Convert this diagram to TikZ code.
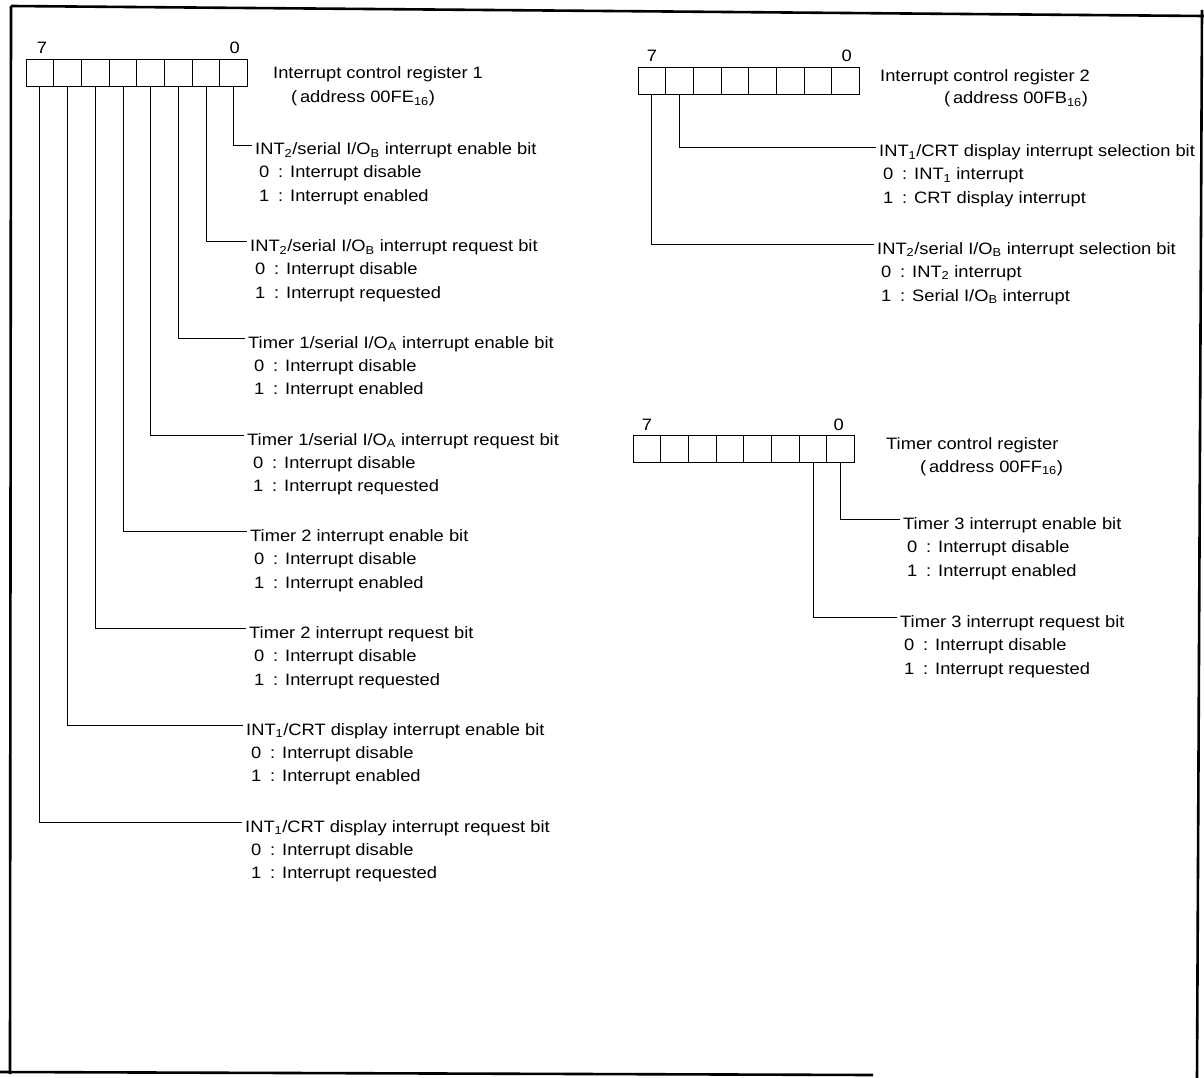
\documentclass[tikz,border=0pt]{standalone}
\usepackage{fontspec}
\setmainfont[FakeStretch=1.11]{Liberation Sans}
\newcommand\opt[2]{\makebox[19pt][l]{#1}\makebox[12pt][l]{:}#2}
\newcommand\regcells[3]{%
  \foreach \i in {0,...,7}
    \node[cell] (#1\i) at ({#2+(7-\i+0.5)*27.7},{#3+13.5}) {};}
\begin{document}
\begin{tikzpicture}[x=1pt,y=-1pt,
  font=\fontsize{16.5}{18}\selectfont,
  cell/.style={draw,line width=0.9pt,minimum width=27.7pt,minimum height=27pt,inner sep=0pt,outer sep=0pt},
  lbl/.style={anchor=base west,inner sep=0pt},
  num/.style={anchor=base,inner sep=0pt},
  wire/.style={line width=0.9pt},
  frame/.style={line width=2.6pt}]
\useasboundingbox (0,0) rectangle (1204,1078);
% frame
\coordinate (ftl) at (11,6);
\coordinate (ftr) at (1204,16);
\coordinate (fbl) at (10,1074);
\coordinate (fbe) at (873,1075);
\coordinate (fb0) at (0,1072);
\coordinate (frt) at (1202,10);
\coordinate (frb) at (1197,1078);
\draw[frame] (ftl) -- (ftr);
\draw[frame] (ftl) -- (fbl);
\draw[frame] (fb0) -- (fbe);
\draw[frame] (frt) -- (frb);

% ---------------- register 1
\regcells{ra}{26}{59}
\node[num] (ra7n) at ([xshift=2pt,yshift=5pt]ra7.north) {7};
\node[num] (ra0n) at ([xshift=1pt,yshift=5pt]ra0.north) {0};
\node[lbl] (rat) at (273,79) {Interrupt control register 1};
\node[lbl] (raa) at (291,103) {(\,address 00FE\textsubscript{16})};

\node[lbl] (a0) at (255,155) {INT\textsubscript{2}/serial I/O\textsubscript{B} interrupt enable bit};
\node[lbl] (a0z) at (259,178) {\opt{0}{Interrupt disable}};
\node[lbl] (a0o) at (259,201.5) {\opt{1}{Interrupt enabled}};

\node[lbl] (a1) at (250,251.7) {INT\textsubscript{2}/serial I/O\textsubscript{B} interrupt request bit};
\node[lbl] (a1z) at (255,274.7) {\opt{0}{Interrupt disable}};
\node[lbl] (a1o) at (255,298.2) {\opt{1}{Interrupt requested}};

\node[lbl] (a2) at (248,348.4) {Timer 1/serial I/O\textsubscript{A} interrupt enable bit};
\node[lbl] (a2z) at (254,371.4) {\opt{0}{Interrupt disable}};
\node[lbl] (a2o) at (254,394.9) {\opt{1}{Interrupt enabled}};

\node[lbl] (a3) at (247,445.1) {Timer 1/serial I/O\textsubscript{A} interrupt request bit};
\node[lbl] (a3z) at (253,468.1) {\opt{0}{Interrupt disable}};
\node[lbl] (a3o) at (253,491.6) {\opt{1}{Interrupt requested}};

\node[lbl] (a4) at (250,541.9) {Timer 2 interrupt enable bit};
\node[lbl] (a4z) at (254,564.9) {\opt{0}{Interrupt disable}};
\node[lbl] (a4o) at (254,588.4) {\opt{1}{Interrupt enabled}};

\node[lbl] (a5) at (249,638.6) {Timer 2 interrupt request bit};
\node[lbl] (a5z) at (254,661.6) {\opt{0}{Interrupt disable}};
\node[lbl] (a5o) at (254,685.1) {\opt{1}{Interrupt requested}};

\node[lbl] (a6) at (246,735.3) {INT\textsubscript{1}/CRT display interrupt enable bit};
\node[lbl] (a6z) at (251,758.3) {\opt{0}{Interrupt disable}};
\node[lbl] (a6o) at (251,781.8) {\opt{1}{Interrupt enabled}};

\node[lbl] (a7) at (245,832) {INT\textsubscript{1}/CRT display interrupt request bit};
\node[lbl] (a7z) at (251,855) {\opt{0}{Interrupt disable}};
\node[lbl] (a7o) at (251,878.5) {\opt{1}{Interrupt requested}};

\foreach \i in {0,...,7}
  \draw[wire] (ra\i.south) |- ([xshift=-3pt,yshift=10pt]a\i.base west);

% ---------------- register 2
\regcells{rb}{638}{67}
\node[num] (rb7n) at ([xshift=0pt,yshift=5pt]rb7.north) {7};
\node[num] (rb0n) at ([xshift=1pt,yshift=5pt]rb0.north) {0};
\node[lbl] (rbt) at (880,82) {Interrupt control register 2};
\node[lbl] (rba) at (944,104) {(\,address 00FB\textsubscript{16})};

\node[lbl] (b6) at (879,157) {INT\textsubscript{1}/CRT display interrupt selection bit};
\node[lbl] (b6z) at (883,180) {\opt{0}{INT\textsubscript{1} interrupt}};
\node[lbl] (b6o) at (883,204) {\opt{1}{CRT display interrupt}};

\node[lbl] (b7) at (877,254) {INT\textsubscript{2}/serial I/O\textsubscript{B} interrupt selection bit};
\node[lbl] (b7z) at (881,277) {\opt{0}{INT\textsubscript{2} interrupt}};
\node[lbl] (b7o) at (881,301) {\opt{1}{Serial I/O\textsubscript{B} interrupt}};

\draw[wire] (rb6.south) |- ([xshift=-3pt,yshift=10pt]b6.base west);
\draw[wire] (rb7.south) |- ([xshift=-3pt,yshift=10pt]b7.base west);

% ---------------- timer control register
\regcells{rc}{633}{435}
\node[num] (rc7n) at ([xshift=0pt,yshift=5pt]rc7.north) {7};
\node[num] (rc0n) at ([xshift=-2pt,yshift=5pt]rc0.north) {0};
\node[lbl] (rct) at (886,449) {Timer control register};
\node[lbl] (rca) at (920,472) {(\,address 00FF\textsubscript{16})};

\node[lbl] (c0) at (903,529) {Timer 3 interrupt enable bit};
\node[lbl] (c0z) at (907,552) {\opt{0}{Interrupt disable}};
\node[lbl] (c0o) at (907,576) {\opt{1}{Interrupt enabled}};

\node[lbl] (c1) at (900,627) {Timer 3 interrupt request bit};
\node[lbl] (c1z) at (904,650) {\opt{0}{Interrupt disable}};
\node[lbl] (c1o) at (904,674) {\opt{1}{Interrupt requested}};

\draw[wire] (rc0.south) |- ([xshift=-3pt,yshift=10pt]c0.base west);
\draw[wire] (rc1.south) |- ([xshift=-3pt,yshift=10pt]c1.base west);
\end{tikzpicture}
\end{document}
